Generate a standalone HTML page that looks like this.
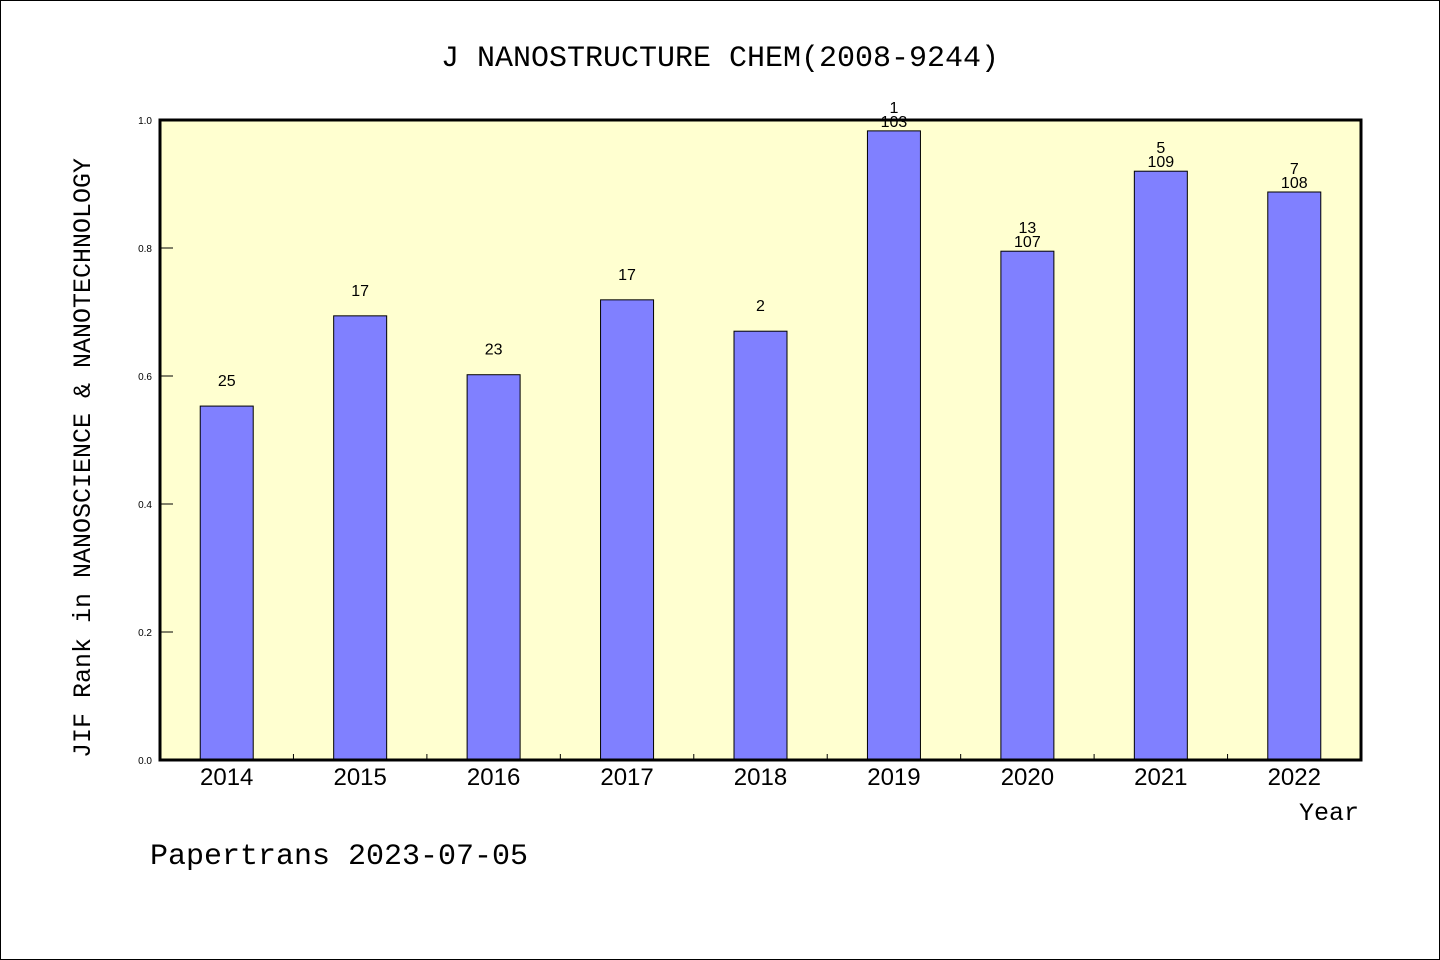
<!DOCTYPE html>
<html><head><meta charset="utf-8"><style>
body{margin:0;background:#fff}
svg{display:block;font-family:"Liberation Sans","WenQuanYi Zen Hei",sans-serif}
</style></head><body>
<svg id="chart" width="1440" height="960">
<rect x="0.5" y="0.5" width="1439" height="959" fill="#fff" stroke="#000"/>
<text x="720" y="66" font-size="30" text-anchor="middle" font-family="'WenQuanYi Zen Hei','Liberation Mono',monospace">J NANOSTRUCTURE CHEM(2008-9244)</text>
<rect x="160" y="120" width="1201" height="640" fill="#ffffd0"/>
<g id="bars"></g>
<g id="labels"></g>
<g id="ticks"></g>
<rect x="160" y="120" width="1201" height="640" fill="none" stroke="#000" stroke-width="3"/>
<text transform="translate(90,458) rotate(-90)" font-size="25" text-anchor="middle" font-family="'WenQuanYi Zen Hei','Liberation Mono',monospace">JIF Rank in NANOSCIENCE &amp; NANOTECHNOLOGY</text>
<text x="1359" y="820" font-size="25" text-anchor="end" font-family="'WenQuanYi Zen Hei','Liberation Mono',monospace">Year</text>
<text x="150" y="864" font-size="30" font-family="'WenQuanYi Zen Hei','Liberation Mono',monospace">Papertrans 2023-07-05</text>
</svg>
<script>
const categories=["2014","2015","2016","2017","2018","2019","2020","2021","2022"];
const values=[0.553,0.694,0.602,0.719,0.670,0.983,0.795,0.920,0.8875];
const ranks=["25","17","23","17","2","1","13","5","7"];
const totals=["","","","","","103","107","109","108"];
const yTicks=[0,0.2,0.4,0.6,0.8,1.0];
const X0=160,X1=1361,Y0=760,Y1=120;
const step=(X1-X0)/categories.length;
function xc(i){return X0+step*(i+0.5);}
function y(v){return Y0-(Y0-Y1)*v;}
const NS="http://www.w3.org/2000/svg";
function mk(t,a,p){const e=document.createElementNS(NS,t);for(const k in a)e.setAttribute(k,a[k]);p.appendChild(e);return e;}
const bars=document.getElementById('bars'),labels=document.getElementById('labels'),ticks=document.getElementById('ticks');
categories.forEach((c,i)=>{
 const r=mk('rect',{x:xc(i)-26.5,y:y(values[i]),width:53,height:Y0-y(values[i]),fill:'#8080ff',stroke:'#000','stroke-width':1},bars);
 
 
 const top=y(values[i]);
 if(totals[i]){
  const t1=mk('text',{x:xc(i),y:top-4,'font-size':16,'text-anchor':'middle'},labels);t1.textContent=totals[i];
  
  
  const t2=mk('text',{x:xc(i),y:top-18,'font-size':16,'text-anchor':'middle'},labels);t2.textContent=ranks[i];
  
  
 } else {
  const t2=mk('text',{x:xc(i),y:top-20,'font-size':16,'text-anchor':'middle'},labels);t2.textContent=ranks[i];
  
  
 }
 const xl=mk('text',{x:xc(i),y:785,'font-size':24,'text-anchor':'middle'},labels);xl.textContent=c;
 
 
 if(i>0){const tk=mk('line',{x1:X0+step*i,x2:X0+step*i,y1:Y0,y2:Y0-6,stroke:'#000'},ticks);
 
 }
});
yTicks.forEach(v=>{
 const tk=mk('line',{x1:X0,x2:X0+13,y1:y(v),y2:y(v),stroke:'#000'},ticks);
 
 
 const tl=mk('text',{x:152,y:y(v)+4,'font-size':10,'text-anchor':'end'},ticks);tl.textContent=v.toFixed(1);
 
 
});
</script>
</body></html>
